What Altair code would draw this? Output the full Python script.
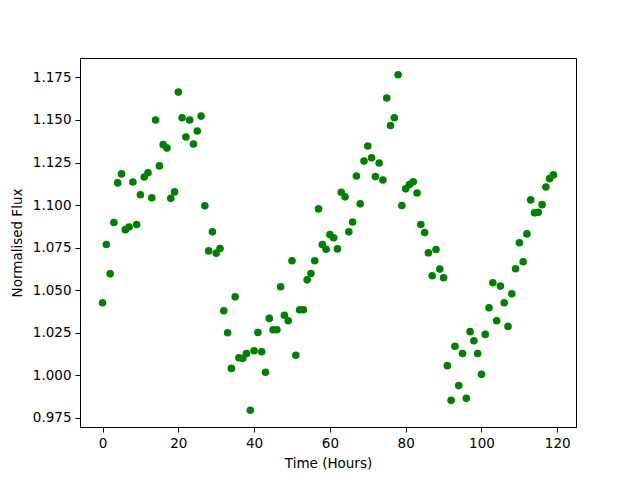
import altair as alt
import pandas as pd

hours = list(range(120))
flux = [
    1.0425, 1.0768, 1.0595, 1.0897, 1.1130, 1.1183, 1.0855, 1.0871, 1.1135, 1.0885,
    1.1060, 1.1165, 1.1190, 1.1042, 1.1500, 1.1230, 1.1355, 1.1335, 1.1040, 1.1077,
    1.1664, 1.1513, 1.1400, 1.1500, 1.1359, 1.1435, 1.1523, 1.0995, 1.0730, 1.0842,
    1.0717, 1.0744, 1.0378, 1.0249, 1.0039, 1.0460, 1.0102, 1.0098, 1.0126, 0.9793,
    1.0143, 1.0250, 1.0137, 1.0016, 1.0333, 1.0266, 1.0266, 1.0519, 1.0352, 1.0319,
    1.0672, 1.0116, 1.0384, 1.0384, 1.0560, 1.0597, 1.0672, 1.0977, 1.0768, 1.0740,
    1.0826, 1.0807, 1.0742, 1.1075, 1.1048, 1.0842, 1.0900, 1.1171, 1.1007, 1.1259,
    1.1347, 1.1278, 1.1167, 1.1247, 1.1147, 1.1629, 1.1468, 1.1513, 1.1766, 1.0997,
    1.1095, 1.1120, 1.1137, 1.1071, 1.0885, 1.0838, 1.0719, 1.0584, 1.0738, 1.0623,
    1.0572, 1.0055, 0.9851, 1.0169, 0.9938, 1.0127, 0.9863, 1.0255, 1.0202, 1.0127,
    1.0004, 1.0239, 1.0396, 1.0543, 1.0319, 1.0523, 1.0425, 1.0286, 1.0478, 1.0625,
    1.0778, 1.0666, 1.0830, 1.1030, 1.0954, 1.0957, 1.1002, 1.1106, 1.1155, 1.1177,
]
x_ticks = [0, 20, 40, 60, 80, 100, 120]
y_ticks = [0.975, 1.000, 1.025, 1.050, 1.075, 1.100, 1.125, 1.150, 1.175]

df = pd.DataFrame({"t": hours, "f": flux})

xr = max(hours) - min(hours)
yr = max(flux) - min(flux)
xdom = [min(hours) - 0.05 * xr, max(hours) + 0.05 * xr]
ydom = [min(flux) - 0.05 * yr, max(flux) + 0.05 * yr]

font = "DejaVu Sans"

chart = alt.Chart(df).mark_circle(size=58, opacity=1, color="#008000").encode(
    x=alt.X("t:Q", title="Time (Hours)",
            scale=alt.Scale(domain=xdom, nice=False, zero=False),
            axis=alt.Axis(values=x_ticks, format="d", titlePadding=7)),
    y=alt.Y("f:Q", title="Normalised Flux",
            scale=alt.Scale(domain=ydom, nice=False, zero=False),
            axis=alt.Axis(values=y_ticks, format=".3f", titlePadding=8)),
).properties(
    width=496, height=369,
    autosize=alt.AutoSizeParams(type="none"),
    padding={"left": 72, "top": 50, "right": 56, "bottom": 45},
).configure_view(
    stroke="black", strokeWidth=1
).configure_axis(
    grid=False,
    domainColor="black",
    tickColor="black",
    tickSize=5,
    labelPadding=4,
    labelFont=font,
    labelFontSize=13.5,
    labelColor="black",
    titleFont=font,
    titleFontSize=13.5,
    titleFontWeight="normal",
    titleColor="black",
)

chart.save("out.html", embed_options={"renderer": "svg", "actions": False})
